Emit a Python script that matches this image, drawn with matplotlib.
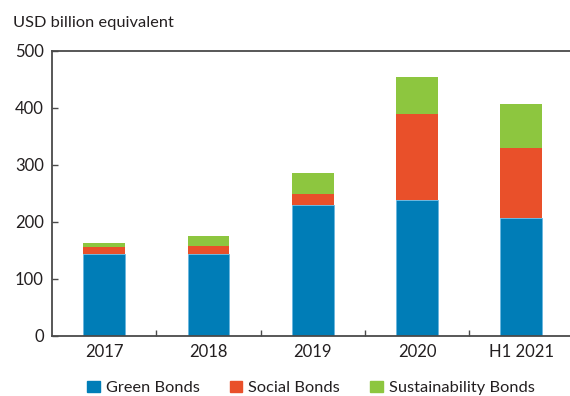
import matplotlib
matplotlib.use("Agg")
import matplotlib.pyplot as plt
from matplotlib.patches import Patch

plt.rcParams['font.family'] = ['Lato', 'DejaVu Sans']

categories = ["2017", "2018", "2019", "2020", "H1 2021"]
green_bonds = [144, 144, 229, 239, 207]
social_bonds = [11, 14, 20, 151, 123]
sustainability_bonds = [8, 16, 37, 64, 77]
y_ticks = [0, 100, 200, 300, 400, 500]

c_green = "#007DB7"
c_social = "#E9502A"
c_sust = "#8DC63F"
axis_col = "#4a4a4a"
text_col = "#231f20"

W, H = 570, 396
fig = plt.figure(figsize=(W / 100, H / 100), dpi=100)
left, right, top, bottom = 52, 573.5, 51, 335.5
ax = fig.add_axes([left / W, 1 - bottom / H, (right - left) / W, (bottom - top) / H])

x = list(range(len(categories)))
width = 0.40
ax.bar(x, green_bonds, width, color=c_green, edgecolor="#6ab7df", linewidth=0.6, label="Green Bonds")
ax.bar(x, social_bonds, width, bottom=green_bonds, color=c_social, linewidth=0, label="Social Bonds")
base2 = [g + s for g, s in zip(green_bonds, social_bonds)]
ax.bar(x, sustainability_bonds, width, bottom=base2, color=c_sust, linewidth=0, label="Sustainability Bonds")

ax.set_xlim(-0.5, len(categories) - 0.5)
ax.set_ylim(0, 500)
ax.set_yticks(y_ticks)
ax.set_yticklabels([str(v) for v in y_ticks], fontsize=12, color=text_col)

ax.set_xticks(x)
ax.set_xticklabels(categories, fontsize=12, color=text_col)
ax.tick_params(axis="x", which="major", length=0, pad=6)
ax.set_xticks([i + 0.5 for i in x[:-1]], minor=True)
ax.tick_params(axis="x", which="minor", direction="in", length=4, width=1, color=axis_col)
ax.tick_params(axis="y", direction="in", length=4, width=1, color=axis_col, pad=6)

for side in ("left", "top", "bottom"):
    ax.spines[side].set_color(axis_col)
    ax.spines[side].set_linewidth(1.3)
ax.spines["right"].set_visible(False)

fig.text(13 / W, 1 - 23 / H, "USD billion equivalent", fontsize=11.8, color=text_col, va="center", ha="left")

handles = [Patch(color=c_green), Patch(color=c_social), Patch(color=c_sust)]
labels = ["Green Bonds", "Social Bonds", "Sustainability Bonds"]
fig.legend(handles, labels, loc="center left", bbox_to_anchor=(87 / W, 1 - 388 / H), ncol=3,
           frameon=False, fontsize=11.8, handlelength=0.77, handleheight=0.62,
           handletextpad=0.37, columnspacing=1.83, borderpad=0, borderaxespad=0,
           labelcolor=text_col)

fig.savefig("out.png", dpi=100)
